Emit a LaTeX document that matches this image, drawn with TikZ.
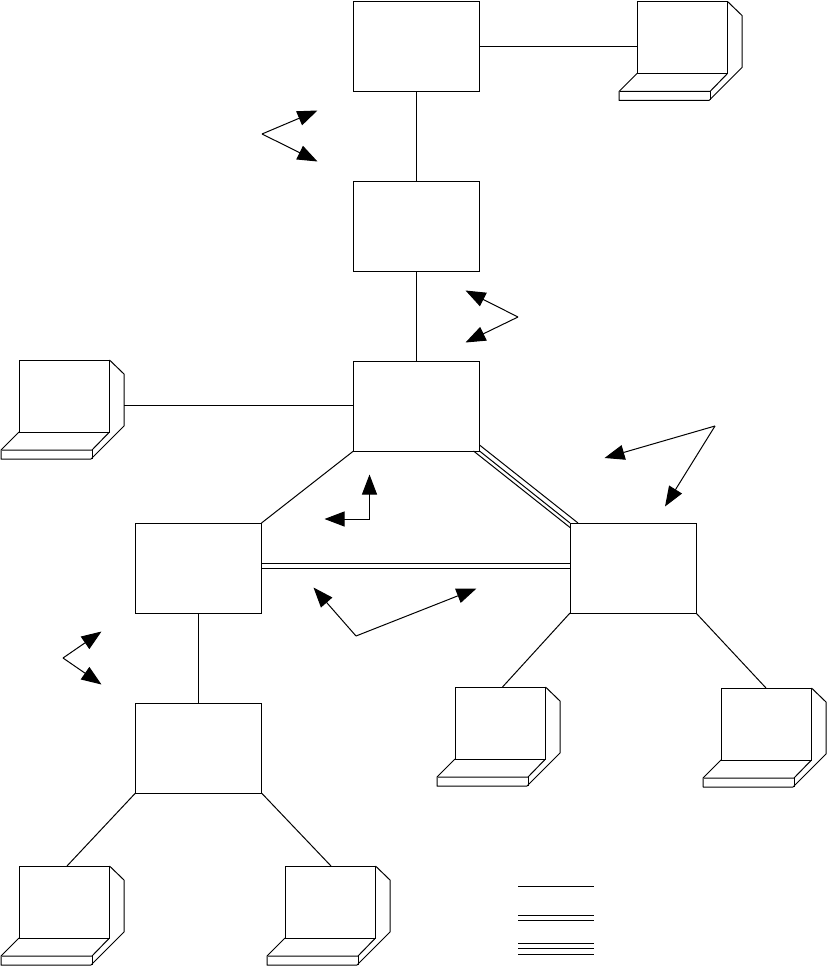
\documentclass[tikz,border=0pt]{standalone}
\usetikzlibrary{arrows.meta}
\tikzset{
  hub/.style={draw=black,line width=1pt,minimum width=126pt,minimum height=90pt,inner sep=0pt,outer sep=0pt},
  screen/.style={draw=black,line width=1pt,minimum width=90.5pt,minimum height=72pt,inner sep=0pt,outer sep=0pt},
  link/.style={draw=black,line width=1pt},
  pointer/.style={draw=black,line width=1pt,-{Triangle[length=20pt,width=15pt]}}
}
% name, x of the screen's left edge, y of its top edge
\newcommand{\laptop}[3]{%
  \node[screen,anchor=north west] (#1) at (#2,#3) {};
  \draw[link,line join=round] (#1.north east) -- ++(14.5,14) -- ++(0,52) -- ++(-33,33) -- ++(-90,0) -- ++(0,-9) -- (#1.south west);
  \draw[link] (#1.south east) -- ++(-17.5,18) -- ++(-90,0);
  \draw[link] (#1.south east) ++(-17.5,18) -- ++(0,9);
  \coordinate (#1side) at ([shift={(14.5,0)}]#1.east);
}
\begin{document}
\begin{tikzpicture}[x=1pt,y=-1pt]
\useasboundingbox (0,0) rectangle (828,968);
\node[hub] (b1) at (416.5,46.5) {};
\node[hub] (b2) at (416.5,226.5) {};
\node[hub] (b3) at (416.5,406) {};
\node[hub] (b4) at (198.5,568) {};
\node[hub] (b5) at (633,568) {};
\node[hub] (b6) at (198.5,748) {};
\laptop{c1}{637}{1.5}
\laptop{c2}{19}{360}
\laptop{c3}{455}{687}
\laptop{c4}{721}{688}
\laptop{c5}{19}{866}
\laptop{c6}{285}{866}
% single links
\draw[link] (b1.east) -- (b1.east -| c1.west);
\draw[link] (b1.south) -- (b2.north);
\draw[link] (b2.south) -- (b3.north);
\draw[link] ([yshift=1pt]b3.west -| c2side) -- ([yshift=1pt]b3.west);
\draw[link] (b3.south west) -- (b4.north east);
\draw[link] (b4.south) -- (b6.north);
\draw[link] (b5.south west) -- ([xshift=47.5pt]c3.north west);
\draw[link] (b5.south east) -- ([xshift=45pt]c4.north west);
\draw[link] (b6.south west) -- ([xshift=48pt]c5.north west);
\draw[link] (b6.south east) -- ([xshift=46pt]c6.north west);
% double link
\draw[link] ([yshift=4.5pt]b4.east) -- ([yshift=4.5pt]b5.west);
\draw[link] (b4.east) -- (b5.west);
% triple link
\draw[link] ([yshift=6pt]b3.south east) -- ([xshift=8pt]b5.north west);
\draw[link] (b3.south east) -- (b5.north west);
\draw[link] ([xshift=-6pt]b3.south east) -- ([yshift=-4.5pt]b5.north west);
% pointers
\coordinate (p1) at (262,134);
\coordinate (p1a) at (317.5,110.5);
\coordinate (p1b) at (317.5,161.5);
\draw[pointer] (p1) -- (p1a);
\draw[pointer] (p1) -- (p1b);
\coordinate (p2) at (518,317);
\coordinate (p2a) at (465.5,290.5);
\coordinate (p2b) at (465.5,342.5);
\draw[pointer] (p2) -- (p2a);
\draw[pointer] (p2) -- (p2b);
\coordinate (p3) at (715,426);
\coordinate (p3a) at (604.5,458);
\coordinate (p3b) at (665,506.5);
\draw[pointer] (p3) -- (p3a);
\draw[pointer] (p3) -- (p3b);
\coordinate (p4) at (369.5,519);
\coordinate (p4a) at (369.5,474.5);
\coordinate (p4b) at (324.5,519);
\draw[pointer] (p4) -- (p4a);
\draw[pointer] (p4) -- (p4b);
\coordinate (p5) at (356,636);
\coordinate (p5a) at (313.5,587.5);
\coordinate (p5b) at (476.5,588.5);
\draw[pointer] (p5) -- (p5a);
\draw[pointer] (p5) -- (p5b);
\coordinate (p6) at (63,658);
\coordinate (p6a) at (101.5,631.5);
\coordinate (p6b) at (101.5,684.5);
\draw[pointer] (p6) -- (p6a);
\draw[pointer] (p6) -- (p6b);
% legend
\foreach \n/\yy in {a/886,b/915.5,c/920.5,d/943.5,e/948.5,f/954.5}{
  \coordinate (l\n1) at (518,\yy);
  \coordinate (l\n2) at (594,\yy);
  \draw[link] (l\n1) -- (l\n2);
}
\end{tikzpicture}
\end{document}
